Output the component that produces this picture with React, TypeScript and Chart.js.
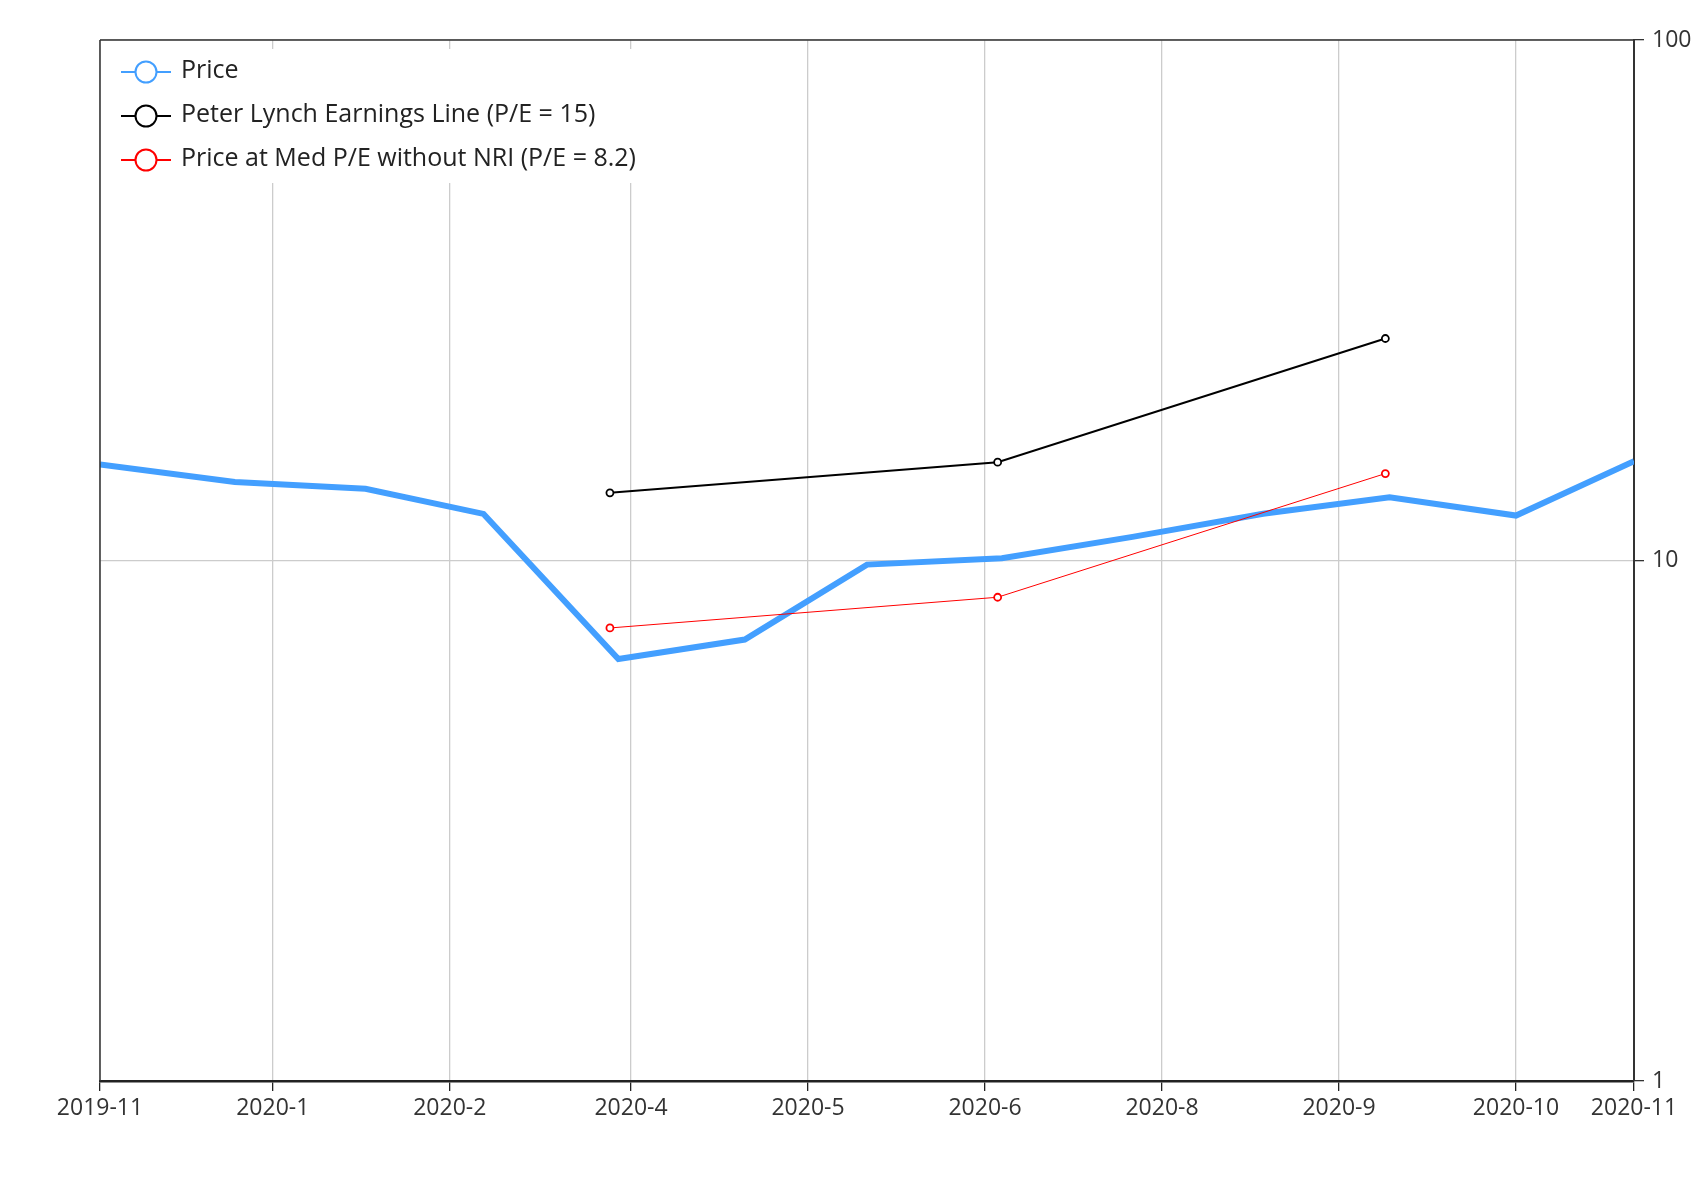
import { useEffect, useRef } from 'react';
import {
  Chart,
  LineController,
  LineElement,
  PointElement,
  LinearScale,
  LogarithmicScale,
} from 'chart.js';

Chart.register(LineController, LineElement, PointElement, LinearScale, LogarithmicScale);

// monthly closing prices
const priceDates = [
  '2019-11-29', '2019-12-31', '2020-01-31', '2020-02-28', '2020-03-31', '2020-04-30', '2020-05-29',
  '2020-06-30', '2020-07-31', '2020-08-31', '2020-09-30', '2020-10-30', '2020-11-27',
];
const priceValues = [15.3, 14.15, 13.73, 12.29, 6.47, 7.05, 9.82, 10.1, 11.1, 12.3, 13.23, 12.2, 15.52];

// quarterly earnings-based lines
const earningsDates = ['2020-03-29', '2020-06-29', '2020-09-29'];
const lynchValues = [13.49, 15.45, 26.7];
const medPeValues = [7.42, 8.5, 14.69];

const xTickDates = [
  '2019-11-29', '2020-01-09', '2020-02-20', '2020-04-03', '2020-05-15',
  '2020-06-26', '2020-08-07', '2020-09-18', '2020-10-30', '2020-11-27',
];
const xTickLabels = ['2019-11', '2020-1', '2020-2', '2020-4', '2020-5', '2020-6', '2020-8', '2020-9', '2020-10', '2020-11'];
const yTickValues = [1, 10, 100];

const FONT = '"Open Sans", "Noto Sans", sans-serif';

const toPoints = (dates: string[], values: number[]) =>
  dates.map((d, i) => ({ x: Date.parse(d), y: values[i] }));

// legend drawn inside the plot area, on a white box
const insideLegend = {
  id: 'insideLegend',
  afterDraw(chart: Chart) {
    const { ctx, chartArea } = chart;
    const left = chartArea.left;
    const top = chartArea.top;
    const rowGap = 44;
    const firstRow = top + 32;
    ctx.save();
    ctx.font = `25px ${FONT}`;
    const labels = chart.data.datasets.map((ds) => String(ds.label));
    const maxW = Math.max(...labels.map((l) => ctx.measureText(l).width));
    ctx.fillStyle = '#fff';
    ctx.fillRect(left + 1, top + 9, 81 + maxW + 14, rowGap * 2 + 46);

    chart.data.datasets.forEach((ds, i) => {
      const y = firstRow + i * rowGap;
      const color = ds.borderColor as string;
      ctx.strokeStyle = color;
      ctx.lineWidth = 2;
      ctx.beginPath();
      ctx.moveTo(left + 21, y);
      ctx.lineTo(left + 71, y);
      ctx.stroke();
      ctx.beginPath();
      ctx.arc(left + 46, y, 10.5, 0, Math.PI * 2);
      ctx.fillStyle = '#fff';
      ctx.fill();
      ctx.stroke();
      ctx.fillStyle = '#222';
      ctx.textBaseline = 'middle';
      ctx.textAlign = 'left';
      ctx.fillText(labels[i], left + 81, y - 1);
    });

    // thin top and left frame lines
    ctx.strokeStyle = '#333';
    ctx.lineWidth = 1.5;
    ctx.beginPath();
    ctx.moveTo(chartArea.left, chartArea.top);
    ctx.lineTo(chartArea.right, chartArea.top);
    ctx.moveTo(chartArea.left, chartArea.top);
    ctx.lineTo(chartArea.left, chartArea.bottom);
    ctx.stroke();
    ctx.restore();
  },
};

export default function App() {
  const canvasRef = useRef<HTMLCanvasElement>(null);
  const chartRef = useRef<Chart | null>(null);

  useEffect(() => {
    if (!canvasRef.current) return;
    chartRef.current?.destroy();

    chartRef.current = new Chart(canvasRef.current, {
      type: 'line',
      data: {
        datasets: [
          {
            label: 'Price',
            data: toPoints(priceDates, priceValues),
            borderColor: '#439fff',
            borderWidth: 6,
            pointRadius: 0,
            tension: 0,
            order: 2,
          },
          {
            label: 'Peter Lynch Earnings Line (P/E = 15)',
            data: toPoints(earningsDates, lynchValues),
            borderColor: '#000000',
            borderWidth: 2,
            pointRadius: 3.5,
            pointBorderWidth: 1.8,
            pointBackgroundColor: '#fff',
            pointBorderColor: '#000000',
            tension: 0,
            order: 1,
          },
          {
            label: 'Price at Med P/E without NRI (P/E = 8.2)',
            data: toPoints(earningsDates, medPeValues),
            borderColor: '#ff0000',
            borderWidth: 1,
            pointRadius: 3.5,
            pointBorderWidth: 1.8,
            pointBackgroundColor: '#fff',
            pointBorderColor: '#ff0000',
            tension: 0,
            order: 0,
          },
        ],
      },
      options: {
        responsive: true,
        maintainAspectRatio: false,
        animation: false,
        layout: { padding: { left: 100, top: 40, right: 0, bottom: 0 } },
        plugins: { legend: { display: false }, tooltip: { enabled: false } },
        scales: {
          x: {
            type: 'linear',
            min: Date.parse(xTickDates[0]),
            max: Date.parse(xTickDates[xTickDates.length - 1]),
            afterBuildTicks: (scale) => {
              scale.ticks = xTickDates.map((d) => ({ value: Date.parse(d) }));
            },
            afterFit: (scale) => {
              scale.height = 119;
            },
            ticks: {
              autoSkip: false,
              maxRotation: 0,
              padding: 4,
              color: '#333',
              font: { size: 23, family: FONT },
              callback: (_v, i) => xTickLabels[i],
            },
            grid: { color: '#cccccc', lineWidth: 1.3, tickColor: '#222', tickLength: 10 },
            border: { color: '#222', width: 2.5 },
          },
          y: {
            type: 'logarithmic',
            position: 'right',
            min: 1,
            max: 100,
            afterBuildTicks: (scale) => {
              scale.ticks = yTickValues.map((v) => ({ value: v }));
            },
            afterFit: (scale) => {
              scale.width = 60;
            },
            ticks: {
              padding: 8,
              color: '#333',
              font: { size: 23, family: FONT },
              callback: (v) => String(v),
            },
            grid: { color: '#cccccc', lineWidth: 1.3, tickColor: '#333', tickLength: 10 },
            border: { color: '#333', width: 2 },
          },
        },
      },
      plugins: [insideLegend],
    });

    return () => {
      chartRef.current?.destroy();
      chartRef.current = null;
    };
  }, []);

  return (
    <div style={{ position: 'absolute', left: 0, top: 0, width: 1694, height: 1200, background: '#fff' }}>
      <canvas ref={canvasRef} />
    </div>
  );
}
